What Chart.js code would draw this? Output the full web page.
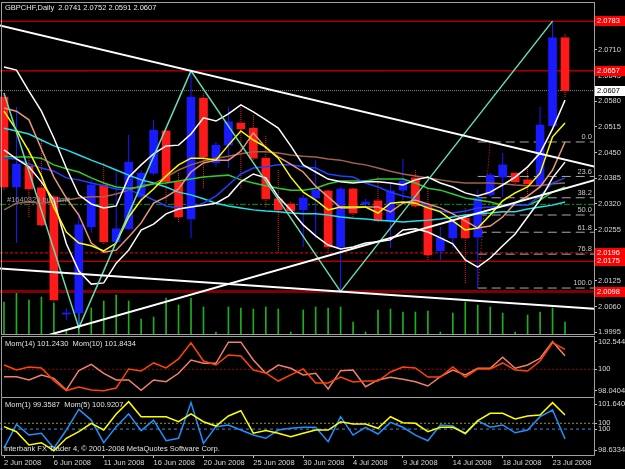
<!DOCTYPE html>
<html><head><meta charset="utf-8">
<script src="https://cdn.jsdelivr.net/npm/chart.js@4.4.1/dist/chart.umd.min.js"></script>
<style>
html,body{margin:0;padding:0;background:#000;overflow:hidden;}
body{width:625px;height:469px;position:relative;}
canvas{position:absolute;left:0;display:block;}
</style></head><body>
<canvas id="cMain" width="625" height="335" style="top:0px"></canvas>
<canvas id="cMom1" width="625" height="61" style="top:336px"></canvas>
<canvas id="cMom2" width="625" height="72" style="top:397px"></canvas>
<script>
// ---------------- data ----------------
const symbol = 'GBPCHF';
const timeframe = 'Daily';
const dates = ['2 Jun 2008','3 Jun 2008','4 Jun 2008','5 Jun 2008','6 Jun 2008','8 Jun 2008','9 Jun 2008','10 Jun 2008','11 Jun 2008','12 Jun 2008',
  '13 Jun 2008','15 Jun 2008','16 Jun 2008','17 Jun 2008','18 Jun 2008','19 Jun 2008','20 Jun 2008','22 Jun 2008','23 Jun 2008','24 Jun 2008',
  '25 Jun 2008','26 Jun 2008','27 Jun 2008','29 Jun 2008','30 Jun 2008','1 Jul 2008','2 Jul 2008','3 Jul 2008','4 Jul 2008','6 Jul 2008',
  '7 Jul 2008','8 Jul 2008','9 Jul 2008','10 Jul 2008','11 Jul 2008','13 Jul 2008','14 Jul 2008','15 Jul 2008','16 Jul 2008','17 Jul 2008',
  '18 Jul 2008','20 Jul 2008','21 Jul 2008','22 Jul 2008','23 Jul 2008','24 Jul 2008'];
const dateTickIdx = [0,4,8,12,16,20,24,28,32,36,40,44];

const open  = [2.0591,2.0363,2.0416,2.0361,2.0338,2.0041,2.0044,2.0262,2.0368,2.0224,
  2.0257,2.0338,2.0398,2.0505,2.0376,2.0282,2.0588,2.0424,2.0469,2.0525,
  2.0512,2.0436,2.0333,2.0320,2.0305,2.0335,2.0353,2.0211,2.0358,2.0320,
  2.0328,2.0277,2.0355,2.0386,2.0315,2.0201,2.0234,2.0284,2.0236,2.0343,
  2.0388,2.0398,2.0381,2.0368,2.0518,2.0741];
const high  = [2.0601,2.0566,2.0462,2.0482,2.0343,2.0056,2.0300,2.0381,2.0424,2.0401,
  2.0495,2.0406,2.0533,2.0512,2.0401,2.0657,2.0601,2.0477,2.0566,2.0566,
  2.0545,2.0495,2.0406,2.0325,2.0343,2.0431,2.0358,2.0363,2.0363,2.0333,
  2.0388,2.0373,2.0434,2.0406,2.0360,2.0262,2.0292,2.0312,2.0355,2.0398,
  2.0449,2.0401,2.0414,2.0566,2.0783,2.0752];
const low   = [2.0355,2.0221,2.0287,2.0264,2.0072,2.0026,2.0006,2.0246,2.0219,2.0221,
  2.0254,2.0330,2.0393,2.0322,2.0274,2.0234,2.0360,2.0414,2.0411,2.0360,
  2.0431,2.0312,2.0196,2.0297,2.0211,2.0234,2.0196,2.0098,2.0287,2.0312,
  2.0274,2.0208,2.0330,2.0312,2.0178,2.0178,2.0208,2.0120,2.0107,2.0338,
  2.0338,2.0371,2.0330,2.0360,2.0515,2.0591];
const close = [2.0363,2.0421,2.0358,2.0267,2.0077,2.0044,2.0267,2.0368,2.0224,2.0257,
  2.0426,2.0398,2.0507,2.0376,2.0287,2.0591,2.0439,2.0469,2.0528,2.0510,
  2.0436,2.0333,2.0305,2.0302,2.0335,2.0355,2.0211,2.0358,2.0297,2.0325,
  2.0277,2.0353,2.0378,2.0315,2.0191,2.0234,2.0274,2.0234,2.0335,2.0393,
  2.0419,2.0376,2.0371,2.0520,2.0741,2.0607];
const volume = [3200,4100,3400,3700,3100,300,3700,2600,3300,3900,
  3300,1500,1700,3600,2900,3600,2700,200,2700,2600,
  2500,2700,2500,200,2400,2700,2600,2700,1200,200,
  2400,2500,2200,2200,2300,200,2100,3200,2900,2700,
  2100,200,1900,2200,2600,1200];

const maYellow = [2.0555,2.0507,2.0454,2.0391,2.0312,2.0249,2.0221,2.0214,2.0201,2.0221,
  2.0287,2.0330,2.0358,2.0391,2.0419,2.0436,2.0436,2.0431,2.0469,2.0505,
  2.0482,2.0464,2.0436,2.0388,2.0350,2.0330,2.0305,2.0312,2.0312,2.0312,
  2.0297,2.0322,2.0325,2.0322,2.0310,2.0300,2.0277,2.0254,2.0259,2.0292,
  2.0328,2.0348,2.0363,2.0398,2.0490,2.0525];
const maSalmon = [2.0563,2.0555,2.0533,2.0459,2.0388,2.0335,2.0292,2.0221,2.0198,2.0203,
  2.0236,2.0272,2.0322,2.0338,2.0358,2.0401,2.0424,2.0431,2.0431,2.0454,
  2.0500,2.0462,2.0439,2.0421,2.0401,2.0365,2.0338,2.0310,2.0310,2.0312,
  2.0312,2.0300,2.0322,2.0330,2.0320,2.0310,2.0295,2.0277,2.0259,2.0264,
  2.0287,2.0322,2.0340,2.0363,2.0406,2.0477];
const maWhiteA = [2.0667,2.0659,2.0606,2.0555,2.0487,2.0411,2.0343,2.0320,2.0310,2.0315,
  2.0388,2.0419,2.0447,2.0467,2.0469,2.0497,2.0538,2.0530,2.0548,2.0571,
  2.0553,2.0533,2.0512,2.0467,2.0419,2.0401,2.0383,2.0376,2.0373,2.0376,
  2.0376,2.0373,2.0368,2.0381,2.0388,2.0373,2.0363,2.0348,2.0340,2.0350,
  2.0368,2.0388,2.0414,2.0449,2.0510,2.0583];
const maWhiteB = [2.0457,2.0434,2.0414,2.0376,2.0330,2.0219,2.0150,2.0117,2.0120,2.0170,
  2.0203,2.0254,2.0269,2.0295,2.0307,2.0312,2.0317,2.0322,2.0340,2.0376,
  2.0396,2.0386,2.0338,2.0305,2.0267,2.0239,2.0216,2.0206,2.0211,2.0221,
  2.0224,2.0229,2.0254,2.0257,2.0249,2.0234,2.0219,2.0178,2.0160,2.0183,
  2.0214,2.0244,2.0287,2.0330,2.0386,2.0426];
const maBlue = [2.0436,2.0434,2.0421,2.0411,2.0403,2.0386,2.0381,2.0373,2.0366,2.0358,
  2.0355,2.0345,2.0330,2.0315,2.0310,2.0312,2.0322,2.0340,2.0368,2.0396,
  2.0411,2.0414,2.0419,2.0419,2.0414,2.0411,2.0396,2.0391,2.0388,2.0373,
  2.0363,2.0350,2.0340,2.0333,2.0312,2.0302,2.0297,2.0302,2.0310,2.0312,
  2.0315,2.0317,2.0317,2.0340,2.0373,2.0386];
const maGreen = [2.0441,2.0439,2.0439,2.0436,2.0419,2.0409,2.0401,2.0386,2.0373,2.0363,
  2.0360,2.0363,2.0371,2.0373,2.0378,2.0383,2.0388,2.0391,2.0393,2.0381,
  2.0373,2.0366,2.0360,2.0355,2.0355,2.0360,2.0371,2.0378,2.0378,2.0378,
  2.0383,2.0383,2.0383,2.0373,2.0360,2.0355,2.0345,2.0335,2.0330,2.0325,
  2.0317,2.0317,2.0317,2.0330,2.0350,2.0363];
const maCyan = [2.0512,2.0505,2.0497,2.0482,2.0467,2.0457,2.0444,2.0431,2.0419,2.0406,
  2.0393,2.0381,2.0373,2.0363,2.0350,2.0343,2.0333,2.0322,2.0315,2.0310,
  2.0305,2.0302,2.0300,2.0297,2.0295,2.0295,2.0292,2.0287,2.0284,2.0282,
  2.0279,2.0277,2.0274,2.0277,2.0279,2.0282,2.0287,2.0292,2.0295,2.0297,
  2.0300,2.0300,2.0307,2.0312,2.0317,2.0325];
const maBrown = [2.0305,2.0322,2.0325,2.0322,2.0325,2.0330,2.0335,2.0338,2.0338,2.0345,
  2.0355,2.0366,2.0371,2.0388,2.0406,2.0419,2.0429,2.0436,2.0441,2.0447,
  2.0452,2.0452,2.0449,2.0444,2.0441,2.0439,2.0434,2.0431,2.0424,2.0419,
  2.0411,2.0403,2.0396,2.0391,2.0386,2.0381,2.0376,2.0373,2.0373,2.0373,
  2.0371,2.0368,2.0366,2.0366,2.0371,2.0373];

const zigzagIdx = [0, 6, 15, 27, 44];
const zigzagVal = [2.0601, 2.0006, 2.0657, 2.0098, 2.0783];

// trend lines: [index1, price1, index2, price2]
const trendDown  = [-1, 2.0777, 48, 2.0410];
const trendUp    = [-1, 1.9947, 48, 2.0386];
const trendLow   = [-1, 2.0158, 48, 2.0053];

const hLinePrices = [2.0783, 2.0657, 2.0607, 2.0319, 2.0196, 2.0175, 2.0098];
const orderLabel = '#1640325 buy limit';

const fibLevels = [0, 23.6, 38.2, 50, 61.8, 76.8, 100];
const fibHigh = 2.0477, fibLow = 2.0107;
const fibHighIdx = 39, fibLowIdx = 38;

const priceTicks = [1.9995,2.0060,2.0125,2.0190,2.0255,2.0320,2.0385,2.0450,2.0515,2.0580,2.0645,2.0710,2.0775];

const mom14 = [99.33,99.33,99.03,99.49,99.18,98.11,99.88,100.47,99.64,99.03,
  99.03,98.08,99.03,98.87,99.64,100.86,100.56,100.56,102.50,102.50,
  100.86,99.64,100.40,100.10,99.49,99.64,98.20,99.88,99.94,98.41,
  99.03,99.27,99.09,98.87,98.47,99.33,99.94,99.49,100.10,100.10,
  101.11,100.10,100.40,101.02,102.5448,101.2430];
const mom10 = [100.40,99.94,100.22,100.13,98.97,98.05,98.38,98.11,98.0404,98.29,
  100.04,99.85,100.59,100.13,100.96,102.45,100.77,100.40,101.32,101.23,
  99.94,99.67,98.93,99.49,100.04,98.75,98.75,99.30,98.84,98.93,
  98.93,99.76,100.22,100.13,99.30,99.30,100.22,99.30,100.04,100.04,
  100.59,99.94,99.85,100.77,102.45,101.8434];
const mom1 = [98.75,100.31,99.61,99.73,98.75,99.94,101.29,100.59,99.11,100.16,
  100.99,99.90,100.59,99.24,99.40,101.73,99.07,100.16,100.27,99.94,
  99.61,99.40,99.94,100.05,100.12,100.12,99.18,100.81,99.61,100.12,
  99.68,100.44,100.12,99.61,99.24,100.27,100.20,99.68,100.55,100.12,
  100.27,99.76,99.94,100.81,101.25,99.3587];
const mom5 = [100.16,99.83,98.96,99.11,98.59,99.40,99.83,100.38,99.94,100.99,
  101.79,100.81,100.81,100.81,100.48,100.99,100.48,100.20,100.86,101.20,
  99.73,99.90,99.73,99.50,99.73,99.94,99.94,100.48,100.33,100.33,
  100.05,100.81,100.42,100.38,99.83,100.12,100.12,99.73,100.55,101.03,
  101.03,100.66,100.86,100.92,101.73,100.9207];
const mom1PanelTicks = [98.0404, 100, 102.5448];
const mom2PanelTicks = [98.6334, 100, 100.38, 101.6402];
const mom1Levels = [100];
const mom2Levels = [100, 100.38];
const copyright = 'Interbank FX Trader 4, \u00a9 2001-2008 MetaQuotes Software Corp.';

// ---------------- layout / style ----------------
const X_MIN = -0.321, X_MAX = 47.325;
const FONT = '"Liberation Sans", Arial, sans-serif';
const FS = 7.5;
const FRAME = '#a0a0a0';
const TXT = '#d8d8d8';
Chart.defaults.font.family = FONT;
Chart.defaults.font.size = FS;
Chart.defaults.color = TXT;
Chart.defaults.animation = false;
Chart.defaults.plugins.legend.display = false;
Chart.defaults.plugins.tooltip.enabled = false;

const hLineStyle = [
  {c:'#ff0000', w:1, dash:[], box:'red'},
  {c:'#ff0000', w:1, dash:[], box:'red'},
  {c:'#8c8c8c', w:1, dash:[1,1], box:'white'},
  {c:'#00a000', w:1, dash:[6,2,2,2], box:null},
  {c:'#ff0000', w:1, dash:[3,2], box:'red'},
  {c:'#ff0000', w:1, dash:[], box:'red'},
  {c:'#800000', w:3, dash:[], box:'red'}
];

const idx = dates.map((_, i) => i);
const pts = arr => idx.map(i => ({x: i, y: arr[i]}));
const isUp = i => close[i] >= open[i];
const fibPrice = l => fibHigh - l / 100 * (fibHigh - fibLow);

function wicks(sel) {
  const d = [];
  sel.forEach(i => { d.push({x:i, y:low[i]}, {x:i, y:high[i]}, {x:i, y:null}); });
  return d;
}
function lineDs(data, color, width, order, extra) {
  return Object.assign({type:'line', data, borderColor:color, borderWidth:width, pointRadius:0,
    tension:0, fill:false, order, spanGaps:false}, extra || {});
}
function yRight(min, max, ticks, fmt) {
  return { position:'right', min, max,
    afterFit: s => { s.width = 31; s.paddingTop = 0; s.paddingBottom = 0; },
    afterBuildTicks: s => { s.ticks = ticks.map(v => ({value:v})); },
    grid: { drawOnChartArea:false, drawTicks:true, tickLength:3, color:'#c0c0c0' },
    border: { display:false },
    ticks: { autoSkip:false, padding:1, color:TXT, font:{size:FS}, callback: fmt } };
}
function xHidden() {
  return { type:'linear', min:X_MIN, max:X_MAX, offset:false, display:false };
}

// ---------------- main chart ----------------
const upIdx = idx.filter(isUp), dnIdx = idx.filter(i => !isUp(i));
const mainSets = [
  lineDs([{x:trendDown[0],y:trendDown[1]},{x:trendDown[2],y:trendDown[3]}], '#ffffff', 2, 1),
  lineDs([{x:trendUp[0],y:trendUp[1]},{x:trendUp[2],y:trendUp[3]}], '#ffffff', 2, 1),
  lineDs([{x:trendLow[0],y:trendLow[1]},{x:trendLow[2],y:trendLow[3]}], '#ffffff', 2, 1),
  lineDs(zigzagIdx.map((i,k) => ({x:i, y:zigzagVal[k]})), '#66dcb0', 1.5, 2),
  lineDs(pts(maYellow), '#ffff00', 1.5, 3),
  lineDs(pts(maSalmon), '#e9967a', 1.5, 4),
  lineDs(pts(maWhiteA), '#ffffff', 1.5, 5),
  lineDs(pts(maWhiteB), '#ffffff', 1.5, 5),
  lineDs(pts(maBlue), '#2040ff', 1.5, 6),
  lineDs(pts(maGreen), '#2ecc2e', 1.5, 7),
  lineDs(pts(maCyan), '#22e0ee', 1.5, 8),
  lineDs(pts(maBrown), '#a0624a', 1.5, 9),
  {type:'bar', data: upIdx.map(i => ({x:i, y:[open[i], close[i]]})), backgroundColor:'#1a1aff',
    barThickness:8, grouped:false, minBarLength:1, order:20},
  {type:'bar', data: dnIdx.map(i => ({x:i, y:[open[i], close[i]]})), backgroundColor:'#ff1a1a',
    barThickness:8, grouped:false, minBarLength:1, order:20},
  lineDs(wicks(upIdx), '#1a1aff', 1, 21),
  lineDs(wicks(dnIdx), '#ff2020', 1, 21, {borderDash:[1,1]}),
  lineDs([{x:fibLowIdx, y:fibLow},{x:fibHighIdx, y:fibHigh}], '#ff2020', 1, 22, {borderDash:[1,2]})
];
fibLevels.forEach(l => mainSets.push(lineDs([{x:fibLowIdx, y:fibPrice(l)},{x:X_MAX, y:fibPrice(l)}], '#a8a8a8', 1, 23, {borderDash:[9,5]})));
hLinePrices.forEach((p,k) => mainSets.push(lineDs([{x:X_MIN, y:p},{x:X_MAX, y:p}], hLineStyle[k].c, hLineStyle[k].w, 24, {borderDash:hLineStyle[k].dash})));
mainSets.push({type:'bar', data: pts(volume), yAxisID:'yv', backgroundColor:'#1db01d', barThickness:1, grouped:false, order:25});

const mainPlugin = {
  id:'mainDeco',
  afterDraw(chart) {
    const ctx = chart.ctx, y = chart.scales.y;
    ctx.save();
    ctx.strokeStyle = FRAME; ctx.lineWidth = 1;
    ctx.strokeRect(1.5, 2.5, 593, 332);
    ctx.font = FS + 'px ' + FONT;
    ctx.textAlign = 'left'; ctx.textBaseline = 'middle'; ctx.fillStyle = '#e8e8e8';
    const n = close.length - 1;
    ctx.fillText(symbol + ',' + timeframe + '  ' + [open[n], high[n], low[n], close[n]].map(v => v.toFixed(4)).join(' '), 5, 8);
    ctx.fillStyle = '#a0a0a0'; ctx.textBaseline = 'bottom';
    ctx.fillText(orderLabel, 7, y.getPixelForValue(hLinePrices[3]) - 1);
    ctx.fillStyle = '#c8c8c8'; ctx.textAlign = 'right';
    fibLevels.forEach(l => ctx.fillText(l.toFixed(1), 592, y.getPixelForValue(fibPrice(l)) - 1));
    ctx.textAlign = 'left'; ctx.textBaseline = 'middle';
    hLinePrices.forEach((p,k) => {
      const st = hLineStyle[k]; if (!st.box) return;
      const yy = Math.round(y.getPixelForValue(p));
      ctx.fillStyle = st.box === 'red' ? '#ff0000' : '#ffffff';
      ctx.fillRect(595, yy - 5, 30, 10);
      ctx.fillStyle = st.box === 'red' ? '#ffffff' : '#000000';
      ctx.fillText(p.toFixed(4), 597, yy);
    });
    ctx.restore();
  }
};

new Chart(document.getElementById('cMain'), {
  type:'line',
  data:{ datasets: mainSets },
  options:{
    responsive:false, events:[],
    layout:{ padding:{top:3, bottom:1, left:0, right:0} },
    scales:{
      x: xHidden(),
      y: yRight(1.99906, 2.0829, priceTicks, v => Number(v).toFixed(4)),
      yv: { display:false, min:0, max:33100 }
    }
  },
  plugins:[mainPlugin]
});

// ---------------- momentum panels ----------------
function panelPlugin(id, title, hasBottom, extraText) {
  return { id, afterDraw(chart) {
    const ctx = chart.ctx, H = chart.height;
    ctx.save();
    ctx.strokeStyle = FRAME; ctx.lineWidth = 1;
    ctx.beginPath();
    ctx.moveTo(1.5, 0.5); ctx.lineTo(594.5, 0.5);
    ctx.moveTo(1.5, 0.5); ctx.lineTo(1.5, hasBottom ? hasBottom + 0.5 : H);
    ctx.moveTo(594.5, 0.5); ctx.lineTo(594.5, hasBottom ? hasBottom + 0.5 : H);
    if (hasBottom) { ctx.moveTo(1.5, hasBottom + 0.5); ctx.lineTo(594.5, hasBottom + 0.5); }
    ctx.stroke();
    ctx.font = FS + 'px ' + FONT; ctx.fillStyle = '#e0e0e0';
    ctx.textAlign = 'left'; ctx.textBaseline = 'middle';
    ctx.fillText(title, 5, 8);
    if (extraText) ctx.fillText(extraText, 4, 52);
    ctx.restore();
  }};
}
const last = a => a[a.length - 1].toFixed(4);

new Chart(document.getElementById('cMom1'), {
  type:'line',
  data:{ datasets:[
    lineDs(pts(mom10), '#ff4500', 1.5, 1, {clip:10}),
    lineDs(pts(mom14), '#f08070', 1.5, 2, {clip:10}),
    ...mom1Levels.map(v => lineDs([{x:X_MIN,y:v},{x:X_MAX,y:v}], '#8b0000', 1, 3, {borderDash:[2,2]}))
  ]},
  options:{
    responsive:false, events:[],
    layout:{ padding:{top:1, bottom:1, left:0, right:0} },
    scales:{ x: xHidden(), y: yRight(97.553, 102.977, mom1PanelTicks, v => v === 100 ? '100' : Number(v).toFixed(4)) }
  },
  plugins:[panelPlugin('p1', 'Mom(14) ' + last(mom14) + '  Mom(10) ' + last(mom10), 0, null)]
});

new Chart(document.getElementById('cMom2'), {
  type:'line',
  data:{ datasets:[
    lineDs(pts(mom5), '#ffff00', 1.5, 1, {clip:10}),
    lineDs(pts(mom1), '#1e90ff', 1.5, 2, {clip:10}),
    lineDs([{x:X_MIN,y:mom2Levels[0]},{x:X_MAX,y:mom2Levels[0]}], '#3a8ee0', 1, 3, {borderDash:[3,3]}),
    lineDs([{x:X_MIN,y:mom2Levels[1]},{x:X_MAX,y:mom2Levels[1]}], '#9a9a20', 1, 3, {borderDash:[2,2]})
  ]},
  options:{
    responsive:false, events:[],
    layout:{ padding:{top:2, bottom:0, left:0, right:0} },
    scales:{
      x: { type:'linear', min:X_MIN, max:X_MAX, offset:false, position:'bottom',
        afterBuildTicks: s => { s.ticks = dateTickIdx.map(v => ({value:v})); },
        afterFit: s => { s.height = 14; s.paddingLeft = 0; s.paddingRight = 0; },
        grid:{ drawOnChartArea:false, drawTicks:true, tickLength:3, color:'#c0c0c0' },
        border:{ display:false },
        ticks:{ align:'start', autoSkip:false, maxRotation:0, minRotation:0, padding:0, color:TXT, font:{size:FS},
          callback: v => dates[v] } },
      y: yRight(98.307, 101.967, mom2PanelTicks, v => (v >= 100 && v < 100.5) ? '100' : Number(v).toFixed(4))
    }
  },
  plugins:[panelPlugin('p2', 'Mom(1) ' + last(mom1) + '  Mom(5) ' + last(mom5), 58, copyright)]
});
</script></body></html>
